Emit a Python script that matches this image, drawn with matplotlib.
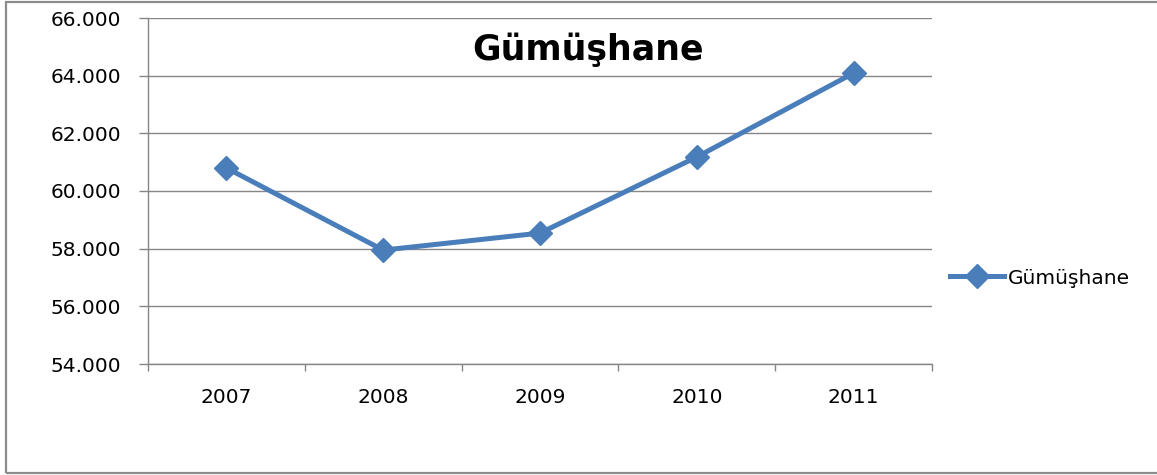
import matplotlib
matplotlib.use("Agg")
import matplotlib.pyplot as plt
from matplotlib.patches import Rectangle
from matplotlib.ticker import FuncFormatter, FixedLocator

plt.rcParams['font.family'] = ['DejaVu Sans']

# data
years = ['2007', '2008', '2009', '2010', '2011']
values = [60800, 57950, 58540, 61180, 64090]
seriesName = 'Gümüşhane'
yTicks = [54000, 56000, 58000, 60000, 62000, 64000, 66000]

blue = '#4a7ebb'
gray = '#868686'

W, H = 1157, 475
fig = plt.figure(figsize=(W / 100, H / 100), dpi=100)

# outer chart border (right edge runs off the picture)
fig.patches.append(Rectangle((6 / W, 1 - 473 / H), 1.2, (473 - 2) / H,
                             transform=fig.transFigure, fill=False,
                             edgecolor='#8c8c8c', linewidth=1.6))

ax = fig.add_axes([148 / W, 1 - 364 / H, (932 - 148) / W, (364 - 18) / H])
x = list(range(len(years)))
line, = ax.plot(x, values, color=blue, linewidth=3.6, marker='D',
                markersize=12, markerfacecolor=blue, markeredgecolor=blue,
                label=seriesName, solid_joinstyle='round', zorder=3)

ax.set_xlim(-0.5, len(years) - 0.5)
ax.set_ylim(yTicks[0], yTicks[-1])
ax.set_yticks(yTicks)
ax.yaxis.set_major_formatter(FuncFormatter(lambda v, p: f"{v:,.0f}".replace(",", ".")))
ax.set_xticks(x)
ax.set_xticklabels(years)
ax.xaxis.set_minor_locator(FixedLocator([i - 0.5 for i in range(len(years) + 1)]))

ax.grid(axis='y', color=gray, linewidth=1.0, zorder=1)
for s in ['top', 'right']:
    ax.spines[s].set_visible(False)
for s in ['left', 'bottom']:
    ax.spines[s].set_color(gray)
    ax.spines[s].set_linewidth(1.0)

ax.tick_params(axis='y', direction='out', length=6.5, width=1.0, color=gray,
               labelsize=14.5, pad=13)
ax.tick_params(axis='x', which='major', length=0, labelsize=14.5, pad=17)
ax.tick_params(axis='x', which='minor', direction='out', length=5, width=1.0, color=gray)

fig.text(588 / W, 1 - 60 / H, seriesName, ha='center', va='baseline',
         fontsize=25, fontweight='bold', color='black')

fig.legend(handles=[line], loc='center left', bbox_to_anchor=(950 / W, 1 - 278 / H),
           frameon=False, fontsize=14.5, handlelength=2.7, handletextpad=0.15,
           borderpad=0, borderaxespad=0)

fig.savefig('out.png', dpi=100)
